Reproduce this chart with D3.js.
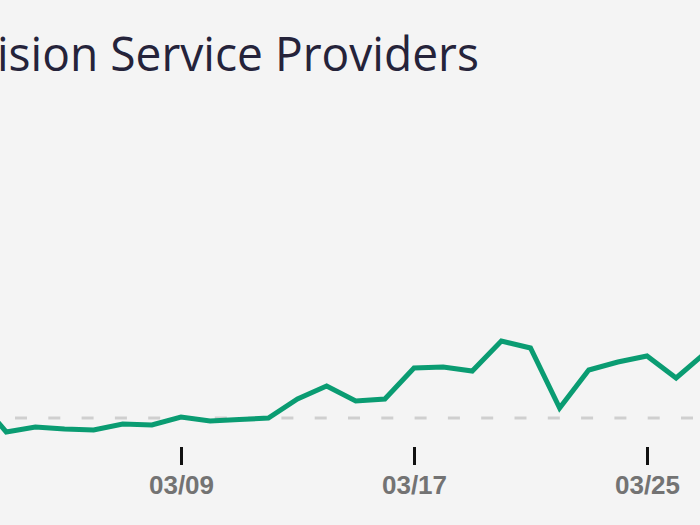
<!DOCTYPE html>
<html>
<head>
<meta charset="utf-8">
<script src="https://cdn.jsdelivr.net/npm/d3@7"></script>
<style>
  html, body { margin: 0; padding: 0; background: #f4f4f4; overflow: hidden; }
  svg { display: block; }
</style>
</head>
<body>
<svg id="chart" width="700" height="525"></svg>
<script>
const title = "Television Service Providers";
const visiblePrefixLen = 5; // "Telev" lies beyond the left edge in the reference
const dates = ["2020-03-02","2020-03-03","2020-03-04","2020-03-05","2020-03-06","2020-03-07","2020-03-08",
  "2020-03-09","2020-03-10","2020-03-11","2020-03-12","2020-03-13","2020-03-14","2020-03-15","2020-03-16",
  "2020-03-17","2020-03-18","2020-03-19","2020-03-20","2020-03-21","2020-03-22","2020-03-23","2020-03-24",
  "2020-03-25","2020-03-26","2020-03-27"];
const values = [10, -7, -4.5, -5.5, -6, -3, -3.5,
  0.5, -1.5, -0.75, 0, 9.5, 16, 8.5, 9.5,
  25, 25.5, 23.5, 38.5, 35, 5, 24, 28,
  31, 20, 32.5];
const tickDates = ["2020-03-09", "2020-03-17", "2020-03-25"];
const baselineValue = 0;

const parse = d3.timeParse("%Y-%m-%d");
const data = dates.map((d, i) => ({ date: parse(d), value: values[i] }));

const svg = d3.select("#chart");
const W = 700;

svg.append("rect").attr("width", 700).attr("height", 525).attr("fill", "#f4f4f4");

const x = d3.scaleTime()
  .domain([parse("2020-03-09"), parse("2020-03-25")])
  .range([181, 647]);
const y = d3.scaleLinear().domain([0, 40]).range([418, 338]);

// title
const tg = svg.append("g");
const tt = tg.append("text")
  .attr("x", 0).attr("y", 71)
  .attr("font-family", "'Open Sans', 'Noto Sans', sans-serif")
  .attr("font-size", 48)
  .attr("fill", "#25233a")
  .text(title);
const node = tt.node();
const wPre = node.getSubStringLength(0, visiblePrefixLen);
const wRest = node.getSubStringLength(visiblePrefixLen, title.length - visiblePrefixLen);
const sx = 482 / wRest;
tg.attr("transform", `translate(${-3 - wPre * sx},0) scale(${sx},1)`);

// baseline
svg.append("line")
  .attr("x1", 0).attr("x2", W)
  .attr("y1", y(baselineValue)).attr("y2", y(baselineValue))
  .attr("stroke", "#cfcfcf")
  .attr("stroke-width", 3)
  .attr("stroke-dasharray", "12 21.3")
  .attr("stroke-dashoffset", 18.3);

// axis
const axis = d3.axisBottom(x)
  .tickValues(tickDates.map(parse))
  .tickFormat(d3.timeFormat("%m/%d"))
  .tickSize(18)
  .tickPadding(11);
const g = svg.append("g").attr("transform", "translate(0,447)").call(axis);
g.select(".domain").remove();
g.selectAll(".tick line").attr("stroke", "#111").attr("stroke-width", 3);
g.selectAll(".tick text")
  .attr("fill", "#737373")
  .attr("font-family", "'Liberation Sans', Arial, Helvetica, sans-serif")
  .attr("font-weight", "bold")
  .attr("font-size", 26);

// line
const line = d3.line().x(d => x(d.date)).y(d => y(d.value));
svg.append("path")
  .datum(data)
  .attr("d", line)
  .attr("fill", "none")
  .attr("stroke", "#0a9c72")
  .attr("stroke-width", 5);
</script>
</body>
</html>
